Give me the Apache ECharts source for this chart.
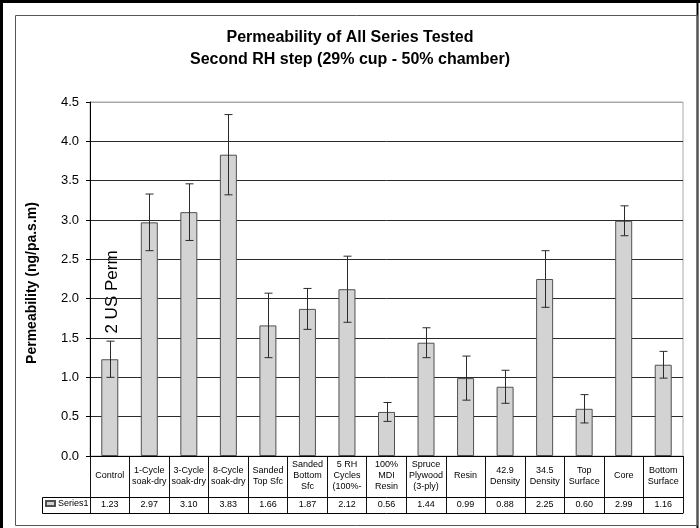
<!DOCTYPE html>
<html>
<head>
<meta charset="utf-8">
<script src="https://cdn.jsdelivr.net/npm/echarts@6/dist/echarts.min.js"></script>
<style>
html,body{margin:0;padding:0;background:#fff;}
#chart{width:700px;height:528px;}
</style>
</head>
<body>
<div id="chart"></div>
<script>
var categories = ['Control','1-Cycle\nsoak-dry','3-Cycle\nsoak-dry','8-Cycle\nsoak-dry','Sanded\nTop Sfc','Sanded\nBottom\nSfc','5 RH\nCycles\n(100%-','100%\nMDI\nResin','Spruce\nPlywood\n(3-ply)','Resin','42.9\nDensity','34.5\nDensity','Top\nSurface','Core','Bottom\nSurface'];
var values = [1.23, 2.97, 3.10, 3.83, 1.66, 1.87, 2.12, 0.56, 1.44, 0.99, 0.88, 2.25, 0.60, 2.99, 1.16];
var errors = [0.23, 0.36, 0.36, 0.51, 0.41, 0.26, 0.42, 0.12, 0.19, 0.28, 0.21, 0.36, 0.18, 0.19, 0.17];
var seriesName = 'Series1';
var yTicks = {min: 0, max: 4.5, interval: 0.5};
var titleLines = ['Permeability of All Series Tested', 'Second RH step (29% cup - 50% chamber)'];
var yAxisTitle = 'Permeability (ng/pa.s.m)';
var annotation = '2 US Perm';

var valueLabels = values.map(function(v){ return v.toFixed(2); });
var errData = values.map(function(v, i){ return [i, v, errors[i]]; });

var chart = echarts.init(document.getElementById('chart'), null, {renderer: 'canvas'});
var FONT = 'Arial, "Liberation Sans", sans-serif';
var splitColors = [];
for (var k = 0; k < 10; k++) splitColors.push(k === 9 ? '#a8a8a8' : '#2a2a2a');

chart.setOption({
  animation: false,
  backgroundColor: '#fff',
  textStyle: {fontFamily: FONT},
  title: {
    text: titleLines.join('\n'),
    left: 'center',
    top: 27,
    padding: 0,
    textStyle: {fontFamily: FONT, fontSize: 16, fontWeight: 'bold', color: '#000', lineHeight: 22}
  },
  legend: {
    data: [seriesName],
    left: 45,
    top: 499,
    padding: 0,
    itemWidth: 9,
    itemHeight: 5,
    icon: 'rect',
    textStyle: {fontSize: 9, color: '#000', fontFamily: FONT, padding: [0,0,0,-2]}
  },
  grid: {left: 90, right: 17, top: 102, bottom: 72, show: true, borderColor: '#a8a8a8', borderWidth: 1},
  xAxis: [
    {
      type: 'category',
      data: categories,
      position: 'bottom',
      axisLine: {lineStyle: {color: '#000', width: 1}},
      axisTick: {show: true, length: 57, interval: 0, lineStyle: {color: '#111'}},
      axisLabel: {interval: 0, fontSize: 9, color: '#000', lineHeight: 11, margin: 20, verticalAlign: 'middle', fontFamily: FONT}
    },
    {
      type: 'category',
      data: valueLabels,
      position: 'bottom',
      offset: 41,
      axisLine: {lineStyle: {color: '#000', width: 1}},
      axisTick: {show: false},
      axisLabel: {interval: 0, fontSize: 9, color: '#000', margin: 8, verticalAlign: 'middle', fontFamily: FONT}
    },
    {
      type: 'category',
      data: valueLabels,
      position: 'bottom',
      offset: 57,
      axisLine: {lineStyle: {color: '#000', width: 1}},
      axisTick: {show: false},
      axisLabel: {show: false}
    }
  ],
  yAxis: {
    type: 'value',
    min: yTicks.min,
    max: yTicks.max,
    interval: yTicks.interval,
    name: yAxisTitle,
    nameLocation: 'middle',
    nameGap: 51,
    nameTextStyle: {fontSize: 14, fontWeight: 'bold', color: '#000', fontFamily: FONT, padding: [0, 0, 0, -8]},
    axisLine: {show: true, lineStyle: {color: '#000'}},
    axisTick: {show: true, length: 4, lineStyle: {color: '#000'}},
    axisLabel: {fontSize: 13, color: '#000', margin: 11, fontFamily: FONT, formatter: function(v){ return v.toFixed(1); }},
    splitLine: {show: true, lineStyle: {color: splitColors, width: 1}}
  },
  series: [
    {
      name: seriesName,
      type: 'bar',
      data: values,
      barWidth: 17,
      itemStyle: {color: '#d3d3d3', borderColor: '#505050', borderWidth: 1}
    },
    {
      name: 'err',
      type: 'custom',
      data: errData,
      encode: {x: 0, y: 1},
      z: 10,
      renderItem: function(params, api){
        var i = api.value(0), v = api.value(1), e = api.value(2);
        var top = api.coord([i, v + e]);
        var bot = api.coord([i, v - e]);
        var x = Math.round(top[0]) + 0.5;
        var hw = 4;
        var st = {stroke: '#2a2a2a', lineWidth: 1};
        return {type: 'group', children: [
          {type: 'line', shape: {x1: x, y1: top[1], x2: x, y2: bot[1]}, style: st},
          {type: 'line', shape: {x1: x - hw, y1: top[1], x2: x + hw, y2: top[1]}, style: st},
          {type: 'line', shape: {x1: x - hw, y1: bot[1], x2: x + hw, y2: bot[1]}, style: st}
        ]};
      }
    }
  ],
  graphic: [
    {type: 'line', shape: {x1: 0, y1: 1.5, x2: 700, y2: 1.5}, style: {stroke: '#000', lineWidth: 3}},
    {type: 'line', shape: {x1: 1.5, y1: 0, x2: 1.5, y2: 528}, style: {stroke: '#000', lineWidth: 3}},
    {type: 'line', shape: {x1: 697.5, y1: 0, x2: 697.5, y2: 528}, style: {stroke: '#000', lineWidth: 2}},
    {type: 'rect', shape: {x: 15.5, y: 15.5, width: 682, height: 510}, style: {fill: null, stroke: '#555', lineWidth: 1}},
    {type: 'rect', shape: {x: 42.5, y: 497.5, width: 48, height: 16}, style: {fill: null, stroke: '#000', lineWidth: 1}},
    {type: 'text', x: 112, y: 292, rotation: Math.PI / 2, style: {text: annotation, font: '17px Arial, "Liberation Sans", sans-serif', fill: '#000', textAlign: 'center', textVerticalAlign: 'middle'}}
  ]
});
</script>
</body>
</html>
